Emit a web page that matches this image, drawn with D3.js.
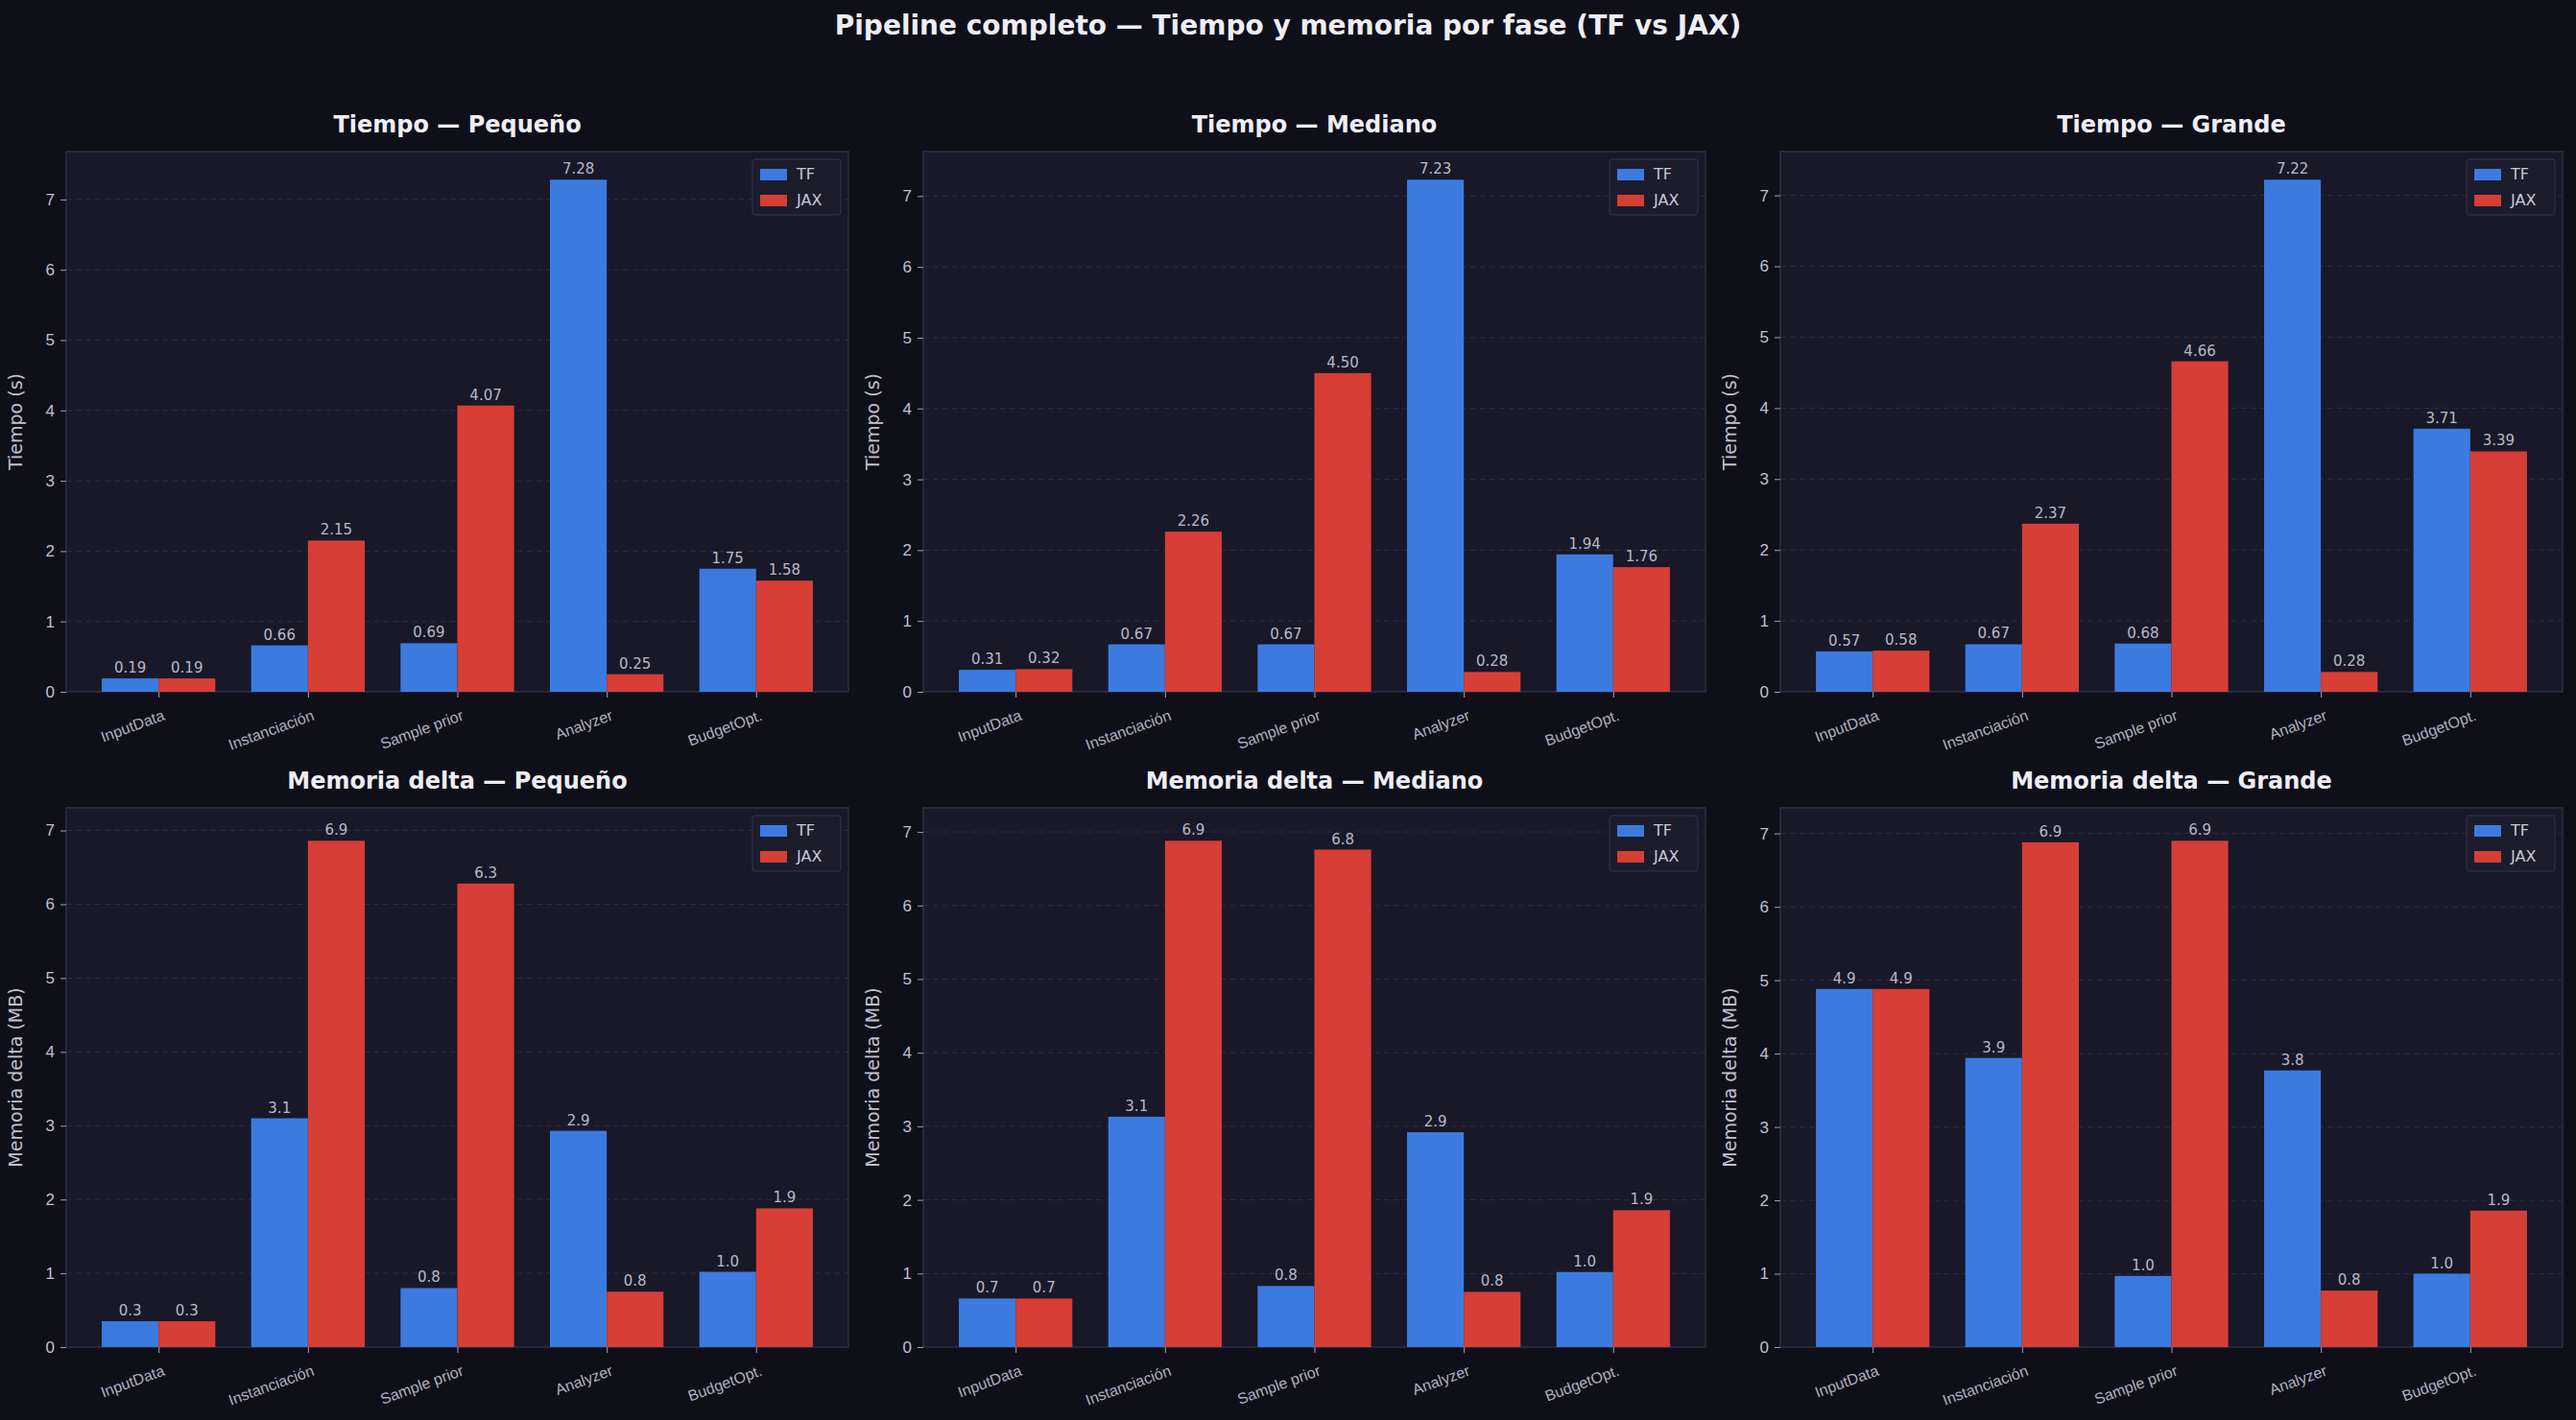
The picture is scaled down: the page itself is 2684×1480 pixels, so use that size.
<!DOCTYPE html><html><head><meta charset="utf-8">
<script src="https://cdn.jsdelivr.net/npm/d3@7"></script>
<style>body{margin:0;background:#0f0f19;}svg{display:block;font-family:"DejaVu Sans",sans-serif;}</style></head><body>
<svg id="c" width="2684" height="1480"></svg>
<script>
const categories=["InputData","Instanciación","Sample prior","Analyzer","BudgetOpt."];
const sizes=["Pequeño","Mediano","Grande"];
const timeTF=[[0.19,0.66,0.69,7.28,1.75],[0.31,0.67,0.67,7.23,1.94],[0.57,0.67,0.68,7.22,3.71]];
const timeJAX=[[0.19,2.15,4.07,0.25,1.58],[0.32,2.26,4.50,0.28,1.76],[0.58,2.37,4.66,0.28,3.39]];
const memTF=[[0.35,3.10,0.80,2.93,1.02],[0.66,3.13,0.83,2.92,1.02],[4.88,3.94,0.97,3.77,1.00]];
const memJAX=[[0.35,6.86,6.28,0.75,1.88],[0.66,6.88,6.76,0.75,1.86],[4.88,6.88,6.90,0.77,1.86]];
const yTicks=[0,1,2,3,4,5,6,7];
const svg=d3.select("#c");
svg.append("rect").attr("width",2684).attr("height",1480).attr("fill","#0f0f19");
svg.append("text").attr("x",1342).attr("y",36).attr("text-anchor","middle").attr("fill","#eeeef5")
 .attr("font-size",28).attr("font-weight","bold").text("Pipeline completo — Tiempo y memoria por fase (TF vs JAX)");
const xs=[69,962,1855], W=815, rows=[{y:158,h:563},{y:842,h:562}];
const TF="#3b7be0", JAX="#d63e36";
function panel(col,row,tf,jax,title,ylabel,fmt,maxMult){
 const x0=xs[col], r=rows[row];
 const g=svg.append("g").attr("transform",`translate(${x0},${r.y})`);
 const x=d3.scaleLinear().domain([-0.618,4.618]).range([0,W]);
 const y=d3.scaleLinear().domain([0,d3.max(tf.concat(jax))*maxMult]).range([r.h,0]);
 g.append("rect").attr("width",W).attr("height",r.h).attr("fill","#181829").attr("stroke","#2e2e46").attr("stroke-width",1.5);
 g.selectAll(".gl").data(yTicks.filter(t=>t>0&&t<y.domain()[1])).join("line").attr("x1",0).attr("x2",W)
  .attr("y1",d=>y(d)).attr("y2",d=>y(d)).attr("stroke","#2c2c44").attr("stroke-dasharray","6,4").attr("stroke-width",1);
 const bw=x(0.38)-x(0);
 [[tf,-0.19,TF],[jax,0.19,JAX]].forEach(([vals,off,c])=>{
  g.selectAll(null).data(vals).join("rect").attr("x",(d,i)=>x(i+off)-bw/2).attr("width",bw)
   .attr("y",d=>y(d)).attr("height",d=>r.h-y(d)).attr("fill",c);
  g.selectAll(null).data(vals).join("text").attr("x",(d,i)=>x(i+off)).attr("y",d=>y(d)-6)
   .attr("text-anchor","middle").attr("font-size",15).attr("fill","#b8b8c8").text(d=>d.toFixed(fmt));
 });
 const ya=g.append("g").call(d3.axisLeft(y).tickValues(yTicks.filter(t=>t<=y.domain()[1])).tickFormat(d3.format("d")).tickSize(6).tickPadding(6));
 ya.select(".domain").remove();
 ya.selectAll("line").attr("stroke","#a0a0b4");
 ya.selectAll("text").attr("fill","#c0c0d0").attr("font-size",17);
 const xa=g.append("g").attr("transform",`translate(0,${r.h})`).call(d3.axisBottom(x).tickValues(d3.range(5)).tickFormat(i=>categories[i]).tickSize(6));
 xa.select(".domain").remove();
 xa.selectAll("line").attr("stroke","#a0a0b4");
 xa.selectAll("text").attr("fill","#b0b0c2").attr("font-size",16).attr("text-anchor","end")
  .attr("transform","translate(0,10) rotate(-20)").attr("dy","0.7em").attr("dx","0");
 g.append("text").attr("transform",`translate(-46,${r.h/2}) rotate(-90)`).attr("text-anchor","middle")
  .attr("font-size",19).attr("fill","#c0c0d0").text(ylabel);
 svg.append("text").attr("x",x0+W/2).attr("y",r.y-20).attr("text-anchor","middle").attr("font-size",24)
  .attr("font-weight","bold").attr("fill","#eeeef5").text(title);
 const lg=g.append("g").attr("transform",`translate(${W-100},8)`);
 lg.append("rect").attr("width",92).attr("height",58).attr("rx",3).attr("fill","#1c1c2c").attr("stroke","#34344c");
 [["TF",TF],["JAX",JAX]].forEach(([n,c],i)=>{
  lg.append("rect").attr("x",8).attr("y",10+i*27).attr("width",28).attr("height",12).attr("fill",c);
  lg.append("text").attr("x",46).attr("y",21+i*27).attr("font-size",16).attr("fill","#c8c8d8").text(n);
 });
}
sizes.forEach((s,i)=>{
 panel(i,0,timeTF[i],timeJAX[i],"Tiempo — "+s,"Tiempo (s)",2,1.055);
 panel(i,1,memTF[i],memJAX[i],"Memoria delta — "+s,"Memoria delta (MB)",1,1.065);
});
</script></body></html>
